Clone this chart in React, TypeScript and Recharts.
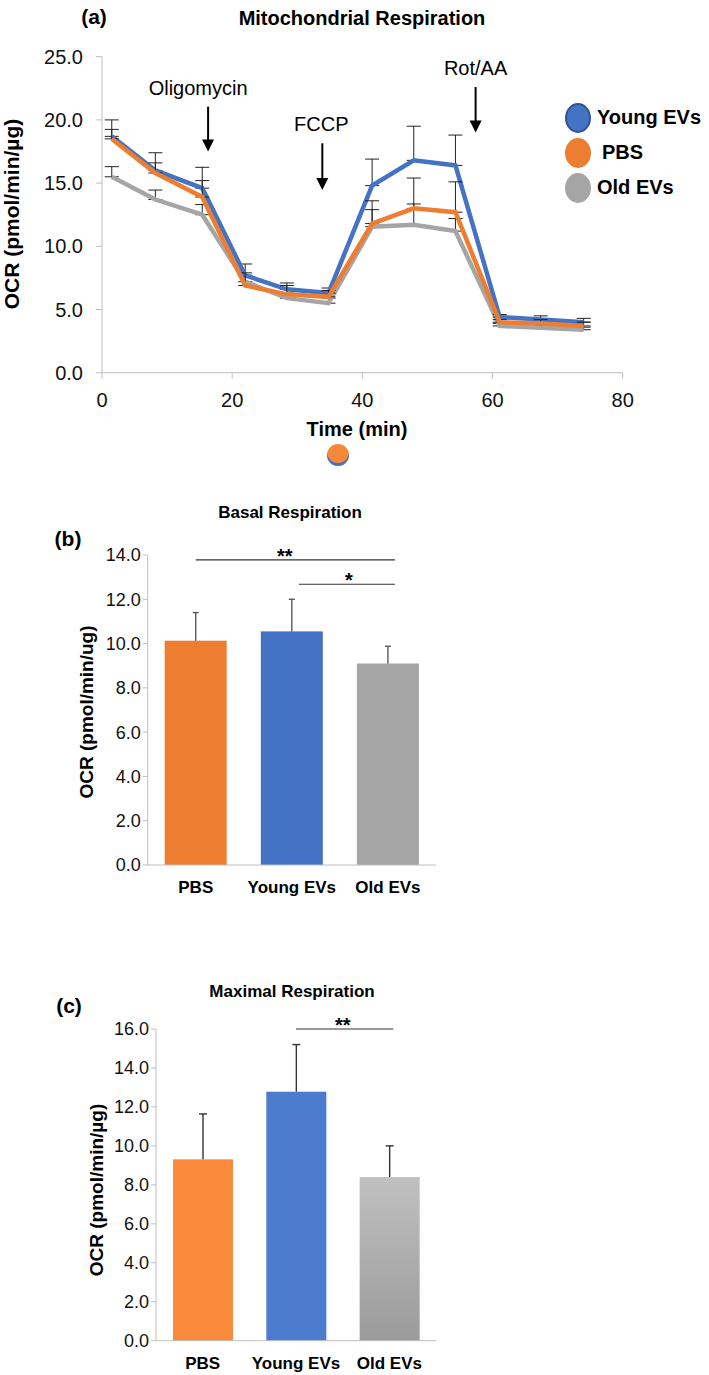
import React from 'react';
import {
  LineChart, Line, BarChart, Bar, Cell, XAxis, YAxis, ErrorBar, ReferenceLine,
} from 'recharts';

// (a) time course
const times = [1.5, 8.2, 15.4, 22.0, 28.4, 34.8, 41.5, 47.9, 54.3, 61.1, 67.4, 74.0];
const youngOcr = [18.7, 16.0, 14.6, 7.7, 6.6, 6.3, 14.8, 16.8, 16.4, 4.4, 4.2, 4.0];
const pbsOcr = [18.5, 15.8, 13.9, 6.9, 6.2, 6.0, 11.8, 13.0, 12.7, 4.0, 3.9, 3.7];
const oldOcr = [15.5, 13.7, 12.5, 7.2, 5.9, 5.5, 11.55, 11.7, 11.2, 3.7, 3.55, 3.4];
const youngErr = [1.3, 1.4, 1.65, 0.9, 0.5, 0.4, 2.1, 2.7, 2.4, 0.2, 0.3, 0.3];
const pbsErr = [0.75, 0.8, 1.3, 1.0, 0.7, 0.5, 1.8, 2.4, 2.4, 0.2, 0.3, 0.3];
const oldErr = [0.8, 0.75, 0.8, 0.5, 0.4, 0.4, 1.35, 1.65, 1.0, 0.2, 0.2, 0.2];
const timeTicks = [0, 20, 40, 60, 80];
const ocrTicks = [0, 5, 10, 15, 20, 25];

// injections: label, time, arrow top, arrow tip
const injLabels = ['Oligomycin', 'FCCP', 'Rot/AA'];
const injTimes = [16.3, 33.85, 57.4];
const injTop = [21.05, 18.15, 22.6];
const injTip = [17.5, 14.45, 19.0];
const injLabelShift = [-10, -1, 0];

// (b) basal, (c) maximal
const groups = ['PBS', 'Young EVs', 'Old EVs'];
const basalMean = [10.13, 10.55, 9.1];
const basalSd = [1.27, 1.45, 0.78];
const basalTicks = [0, 2, 4, 6, 8, 10, 12, 14];
const maxMean = [9.31, 12.78, 8.4];
const maxSd = [2.33, 2.42, 1.6];
const maxTicks = [0, 2, 4, 6, 8, 10, 12, 14, 16];

const FONT = '"Liberation Sans", Arial, Helvetica, sans-serif';
const AXIS = '#bfbfbf';
const BLUE = '#4472c4';
const ORANGE = '#ed7d31';
const GRAY = '#a5a5a5';

const lineData = times.map((t, i) => ({
  t,
  young: youngOcr[i],
  pbs: pbsOcr[i],
  old: oldOcr[i],
  youngE: [0, youngErr[i]],
  pbsE: [0, pbsErr[i]],
  oldE: [0, oldErr[i]],
}));

const basalData = groups.map((g, i) => ({ g, v: basalMean[i], sd: basalSd[i] }));
const maxData = groups.map((g, i) => ({ g, v: maxMean[i], sd: maxSd[i] }));

const fmt1 = (v: number) => v.toFixed(1);

function Txt({ x, y, size, bold, children, rotate }: any) {
  return (
    <div
      style={{
        position: 'absolute', left: x, top: y, fontFamily: FONT, fontSize: size,
        fontWeight: bold ? 700 : 400, color: '#000', whiteSpace: 'nowrap', lineHeight: 1,
        transform: `translate(-50%, -50%)${rotate ? ' rotate(-90deg)' : ''}`,
      }}
    >
      {children}
    </div>
  );
}

const arrowShape = (label: string, shift: number) => (p: any) => {
  const { x1, y1, y2 } = p;
  return (
    <g>
      <text x={x1 + shift} y={y1 - 12} textAnchor="middle" fontFamily={FONT} fontSize={20} fill="#000">
        {label}
      </text>
      <line x1={x1} y1={y1} x2={x1} y2={y2 - 10} stroke="#000" strokeWidth={2} />
      <polygon points={`${x1 - 6},${y2 - 12} ${x1 + 6},${y2 - 12} ${x1},${y2}`} fill="#000" />
    </g>
  );
};

const sigShape = (stars: string, dx1: number, dx2: number, dStar: number) => (p: any) => {
  const { x1, y1, x2 } = p;
  return (
    <g>
      <line x1={x1 + dx1} y1={y1} x2={x2 + dx2} y2={y1} stroke="#333" strokeWidth={1.2} />
      <text x={(x1 + x2) / 2 + dStar} y={y1 + 3} textAnchor="middle" fontFamily={FONT} fontSize={20} fontWeight={700} fill="#000">
        {stars}
      </text>
    </g>
  );
};

// bar with an upward-only error whisker, scaled from the bar's own pixel height
const barErrShape = (errColor: string, cap: number) => (p: any) => {
  const { x, y, width, height, fill, payload } = p;
  const errPx = payload.v ? (payload.sd * height) / payload.v : 0;
  const cx = x + width / 2;
  return (
    <g>
      <rect x={x} y={y} width={width} height={height} fill={fill} />
      <line x1={cx} y1={y} x2={cx} y2={y - errPx} stroke={errColor} strokeWidth={1.4} />
      <line x1={cx - cap / 2} y1={y - errPx} x2={cx + cap / 2} y2={y - errPx} stroke={errColor} strokeWidth={1.4} />
    </g>
  );
};

const legendItems = [
  { name: 'Young EVs', color: BLUE, border: '#2f5597', y: 118, tx: 597 },
  { name: 'PBS', color: ORANGE, border: ORANGE, y: 153, tx: 602 },
  { name: 'Old EVs', color: GRAY, border: GRAY, y: 188, tx: 597 },
];

const tickA = { fontFamily: FONT, fontSize: 20, fill: '#111' };
const tickB = { fontFamily: FONT, fontSize: 18, fill: '#111' };
const catTick = { fontFamily: FONT, fontSize: 17, fontWeight: 700, fill: '#000' };

export default function App() {
  return (
    <div style={{ position: 'absolute', left: 0, top: 0, width: 709, height: 1375, background: '#fff', overflow: 'hidden' }}>
      {/* (a) */}
      <div style={{ position: 'absolute', left: 0, top: 0 }}>
        <LineChart width={709} height={445} data={lineData} margin={{ top: 56.7, right: 86.3, bottom: 27.3, left: 42 }}>
          <XAxis
            dataKey="t" type="number" domain={[0, 80]} ticks={timeTicks} stroke={AXIS}
            tick={tickA} tickSize={6} height={45} tickMargin={14}
          />
          <YAxis
            type="number" domain={[0, 25]} ticks={ocrTicks} tickFormatter={fmt1} stroke={AXIS}
            tick={tickA} tickSize={6} width={60} tickMargin={13}
          />
          {injLabels.map((l, i) => (
            <ReferenceLine
              key={l}
              segment={[{ x: injTimes[i], y: injTop[i] }, { x: injTimes[i], y: injTip[i] }]}
              shape={arrowShape(l, injLabelShift[i])}
            />
          ))}
          <Line dataKey="old" stroke={GRAY} strokeWidth={4.5} dot={false} isAnimationActive={false}>
            <ErrorBar dataKey="oldE" direction="y" width={7} stroke="#222" strokeWidth={1} />
          </Line>
          <Line dataKey="young" stroke={BLUE} strokeWidth={4.5} dot={false} isAnimationActive={false}>
            <ErrorBar dataKey="youngE" direction="y" width={7} stroke="#222" strokeWidth={1} />
          </Line>
          <Line dataKey="pbs" stroke={ORANGE} strokeWidth={4.5} dot={false} isAnimationActive={false}>
            <ErrorBar dataKey="pbsE" direction="y" width={7} stroke="#222" strokeWidth={1} />
          </Line>
        </LineChart>
      </div>
      <Txt x={94} y={16} size={21} bold>(a)</Txt>
      <Txt x={362} y={18} size={20} bold>Mitochondrial Respiration</Txt>
      <Txt x={11} y={214} size={21} bold rotate>OCR (pmol/min/µg)</Txt>
      <Txt x={357} y={429} size={20} bold>Time (min)</Txt>
      <div
        style={{
          position: 'absolute', left: 327, top: 444, width: 22, height: 22, borderRadius: '50%',
          background: '#f5883a', boxShadow: 'inset 0 -3px 0 #4472c4',
        }}
      />
      {legendItems.map((it) => (
        <React.Fragment key={it.name}>
          <div
            style={{
              position: 'absolute', left: 578 - 13, top: it.y - 15, width: 26, height: 30, borderRadius: '50%',
              background: it.color, boxSizing: 'border-box', border: `2px solid ${it.border}`,
            }}
          />
          <div
            style={{
              position: 'absolute', left: it.tx, top: it.y - 11, fontFamily: FONT, fontSize: 20,
              fontWeight: 700, lineHeight: 1, whiteSpace: 'nowrap',
            }}
          >
            {it.name}
          </div>
        </React.Fragment>
      ))}

      {/* (b) */}
      <div style={{ position: 'absolute', left: 0, top: 480 }}>
        <BarChart width={709} height={420} data={basalData} margin={{ top: 75, right: 273, bottom: 0, left: 87.7 }}>
          <XAxis dataKey="g" stroke={AXIS} tickLine={false} tick={catTick} height={35} tickMargin={10} />
          <YAxis
            type="number" domain={[0, 14]} ticks={basalTicks} tickFormatter={fmt1} stroke={AXIS}
            tick={tickB} tickSize={5} width={60} tickMargin={2}
          />
          <Bar dataKey="v" barSize={62} isAnimationActive={false} shape={barErrShape('#595959', 6)}>
            <Cell fill="#ed7d31" />
            <Cell fill="#4472c4" />
            <Cell fill="#a5a5a5" />
          </Bar>
          <ReferenceLine segment={[{ x: 'PBS', y: 13.78 }, { x: 'Old EVs', y: 13.78 }]} shape={sigShape('**', 0, 7, -7)} />
          <ReferenceLine segment={[{ x: 'Young EVs', y: 12.68 }, { x: 'Old EVs', y: 12.68 }]} shape={sigShape('*', 7, 7, 9)} />
        </BarChart>
      </div>
      <Txt x={68} y={538} size={21} bold>(b)</Txt>
      <Txt x={290} y={512} size={17} bold>Basal Respiration</Txt>
      <Txt x={86} y={712} size={19} bold rotate>OCR (pmol/min/ug)</Txt>

      {/* (c) */}
      <div style={{ position: 'absolute', left: 0, top: 950 }}>
        <BarChart width={709} height={425} data={maxData} margin={{ top: 79, right: 273, bottom: 0.3, left: 96 }}>
          <defs>
            <linearGradient id="oldGrad" x1="0" y1="0" x2="0" y2="1">
              <stop offset="0%" stopColor="#c0c0c0" />
              <stop offset="100%" stopColor="#9b9b9b" />
            </linearGradient>
          </defs>
          <XAxis dataKey="g" stroke={AXIS} tickLine={false} tick={catTick} height={34} tickMargin={10} />
          <YAxis
            type="number" domain={[0, 16]} ticks={maxTicks} tickFormatter={fmt1} stroke={AXIS}
            tick={tickB} tickSize={5} width={60} tickMargin={2}
          />
          <Bar dataKey="v" barSize={60} isAnimationActive={false} shape={barErrShape('#333', 8)}>
            <Cell fill="#fb8a3c" />
            <Cell fill="#4d7ccf" />
            <Cell fill="url(#oldGrad)" />
          </Bar>
          <ReferenceLine segment={[{ x: 'Young EVs', y: 16 }, { x: 'Old EVs', y: 16 }]} shape={sigShape('**', 0, 4, 0)} />
        </BarChart>
      </div>
      <Txt x={69} y={1005} size={21} bold>(c)</Txt>
      <Txt x={292} y={991} size={17} bold>Maximal Respiration</Txt>
      <Txt x={96} y={1190} size={19} bold rotate>OCR (pmol/min/µg)</Txt>
    </div>
  );
}
